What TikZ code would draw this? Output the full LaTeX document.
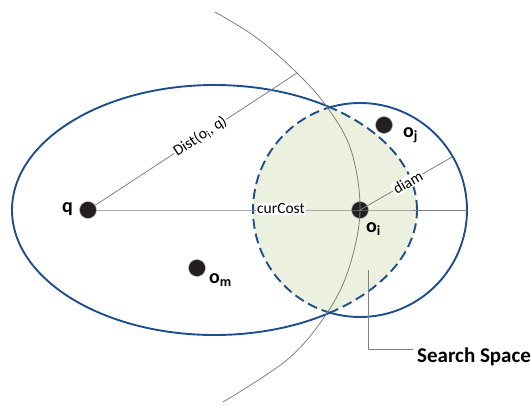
\documentclass[tikz,border=0pt]{standalone}
\usepackage{fontspec}
\setmainfont{Carlito}
\usetikzlibrary{calc}
\definecolor{ellblue}{HTML}{1F4E8C}
\definecolor{spacegreen}{HTML}{EBF1DE}
\definecolor{guide}{HTML}{808080}
\definecolor{dotblack}{HTML}{231F20}
\tikzset{
  bigell/.style={x radius=202.5pt, y radius=125pt},
  smallcirc/.style={radius=107pt},
  boundary/.style={draw=ellblue, line width=1.9pt},
  dashedbound/.style={boundary, dash pattern=on 10pt off 5pt},
  guideline/.style={draw=guide, line width=0.8pt},
  pointdot/.style={circle, fill=dotblack, draw=guide!60, line width=0.5pt, minimum size=17pt, inner sep=0pt},
  ptlabel/.style={font=\fontsize{20}{22}\selectfont\bfseries, inner sep=0pt, anchor=base west},
  linelabel/.style={font=\fontsize{15.5}{17}\selectfont, fill=white, inner sep=1pt},
}
\begin{document}
\begin{tikzpicture}[x=1pt, y=-1pt]
\useasboundingbox (0,0) rectangle (531,405);
% centres
\coordinate (ellc) at (214.5,210);
\coordinate (cc) at (360,210);
% search space fill
\begin{scope}
  \clip (ellc) ellipse [bigell];
  \fill[spacegreen] (cc) circle [smallcirc];
\end{scope}
% solid parts
\begin{scope}[even odd rule]
  \clip (-10,-10) rectangle (541,415) (cc) circle [smallcirc];
  \draw[boundary] (ellc) ellipse [bigell];
\end{scope}
\begin{scope}[even odd rule]
  \clip (-10,-10) rectangle (541,415) (ellc) ellipse [bigell];
  \draw[boundary] (cc) circle [smallcirc];
\end{scope}
% dashed parts
\begin{scope}
  \clip (cc) circle [smallcirc];
  \draw[dashedbound] (ellc) ellipse [bigell];
\end{scope}
\begin{scope}
  \clip (ellc) ellipse [bigell];
  \draw[dashedbound] (cc) circle [smallcirc];
\end{scope}
% points
\node[pointdot] (q) at (88,210) {};
\node[pointdot] (oi) at (360,210) {};
\node[pointdot] (oj) at (384,125) {};
\node[pointdot] (om) at (197,268) {};
% guide arc
\draw[guideline] plot[smooth, tension=0.6] coordinates {(215,12) (257,38) (297,73) (327,107) (351,150) (360,210) (349,268) (327,313) (288,359) (223,402)};
% lines
\coordinate (distend) at (297,73);
\coordinate (diamend) at (452,157);
\coordinate (rightend) at (467,210);
\draw[guideline] (q) -- node[linelabel, sloped, pos=0.52] {Dist(o\textsubscript{i}, q)} (distend);
\draw[guideline] (q) -- (oi.center) -- (rightend);
\node[linelabel] (cur) at (281,209) {curCost};
\draw[guideline] (oi.center) -- node[linelabel, sloped, pos=0.52] {diam} (diamend);
% labels
\node[ptlabel] (ql) at (62,212) {q};
\node[ptlabel] (oil) at (366,232) {o\textsubscript{i}};
\node[ptlabel] (ojl) at (403,137) {o\textsubscript{j}};
\node[ptlabel] (oml) at (209,283) {o\textsubscript{m}};
% callout
\node[ptlabel, font=\fontsize{21}{24}\selectfont\bfseries] (ss) at (417,362) {Search Space};
\coordinate (sstip) at (368,270);
\coordinate (ssend) at (413,349);
\draw[guideline] (sstip) |- (ssend);
\end{tikzpicture}
\end{document}
